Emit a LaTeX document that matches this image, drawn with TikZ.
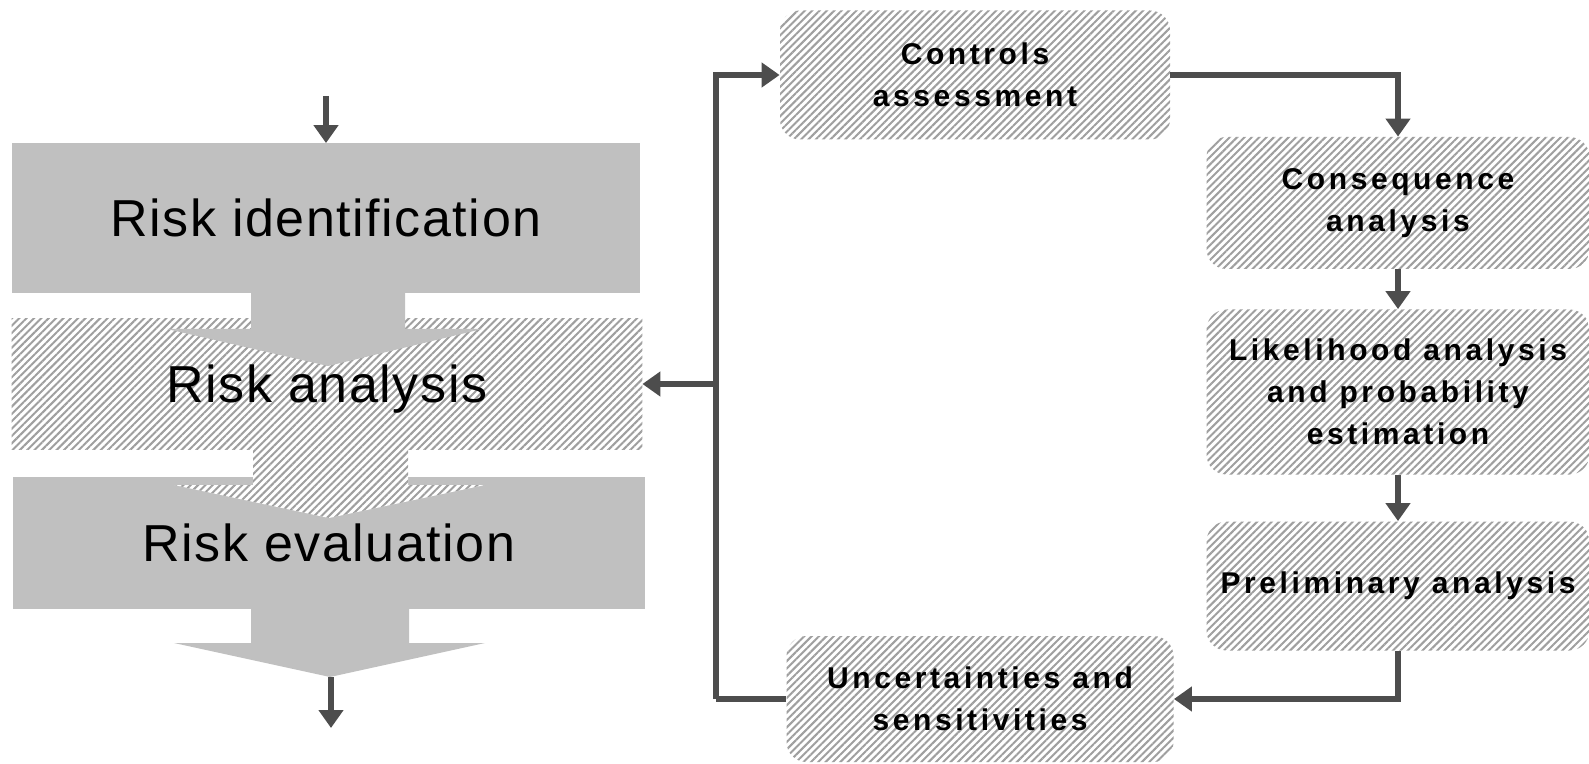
\documentclass[tikz,border=0pt]{standalone}
\usepackage{fontspec}
\setmainfont{Liberation Sans}
\newfontfamily\stagefont[LetterSpace=3]{Liberation Sans}
\newfontfamily\boxfont[LetterSpace=12]{Liberation Sans}
\usetikzlibrary{patterns.meta,arrows.meta}
\definecolor{boxgray}{HTML}{C0C0C0}
\definecolor{linegray}{HTML}{4D4D4D}
\pgfdeclarelayer{bg}
\pgfsetlayers{bg,main}
\begin{document}
\begin{tikzpicture}[x=0.5pt,y=-0.5pt,
  hatch/.style={preaction={fill=white},pattern={Lines[angle=45,distance=2.6pt,line width=1pt]},pattern color=gray!75},
  stage/.style={inner sep=0pt,text depth=0pt,font=\stagefont\fontsize{26}{30}\selectfont},
  task/.style={hatch,rounded corners=10pt,inner sep=0pt,align=center,font=\boxfont\bfseries\fontsize{15}{21}\selectfont},
  flow/.style={draw=linegray,line width=3pt,-{Triangle[length=9pt,width=12pt]}},
  link/.style={draw=linegray,line width=3pt}]
\useasboundingbox (0,0) rectangle (1589,764);
% left column
\node[stage,minimum width=314pt,minimum height=74.5pt] (ident) at (326,218) {Risk identification};
\node[stage,minimum width=315pt,minimum height=65.5pt] (ana) at (327,384) {Risk analysis};
\node[stage,minimum width=316pt,minimum height=65.5pt] (eval) at (329,543) {Risk evaluation};
\begin{pgfonlayer}{bg}
\fill[boxgray] (ident.north west) rectangle (ident.south east);
\path[hatch] (ana.north west) rectangle (ana.south east);
\fill[boxgray] (251,293) -- (405,293) -- (405,329) -- (482,329) -- (328,366) -- (167,329) -- (251,329) -- cycle;
\fill[boxgray] (eval.north west) rectangle (eval.south east);
\path[hatch] (253,449) -- (408,449) -- (408,485) -- (485,485) -- (329,518) -- (174,485) -- (253,485) -- cycle;
\fill[boxgray] (251,609) -- (409,609) -- (409,643) -- (485,643) -- (330,677) -- (174,643) -- (251,643) -- cycle;
\end{pgfonlayer}
\coordinate (in) at (326,96);
\coordinate (evtip) at (331,677);
\coordinate (out) at (331,728);
\draw[flow] (in) -- (ident.north);
\draw[flow] (evtip) -- (out);
% right loop
\node[task,minimum width=195pt,minimum height=64.5pt] (ctrl) at (975,75) {Controls\\assessment};
\node[task,minimum width=191.5pt,minimum height=66pt] (cons) at (1398,203) {Consequence\\analysis};
\node[task,minimum width=191.5pt,minimum height=82.5pt] (like) at (1398,392) {Likelihood analysis\\and probability\\estimation};
\node[task,minimum width=191.5pt,minimum height=64.5pt] (prelim) at (1398,586) {Preliminary analysis};
\node[task,minimum width=193.5pt,minimum height=63pt] (unc) at (980,699) {Uncertainties and\\sensitivities};
\draw[flow] (ctrl.east) -| (cons.north);
\draw[flow] (cons.south) -- (like.north);
\draw[flow] (like.south) -- (prelim.north);
\draw[flow] (prelim.south) |- (unc.east);
\coordinate (back) at (716,699);
\draw[link] (unc.west) -- (back);
\draw[flow] (back) |- (ctrl.west);
\draw[flow] (back |- ana.east) -- (ana.east);
\end{tikzpicture}
\end{document}
